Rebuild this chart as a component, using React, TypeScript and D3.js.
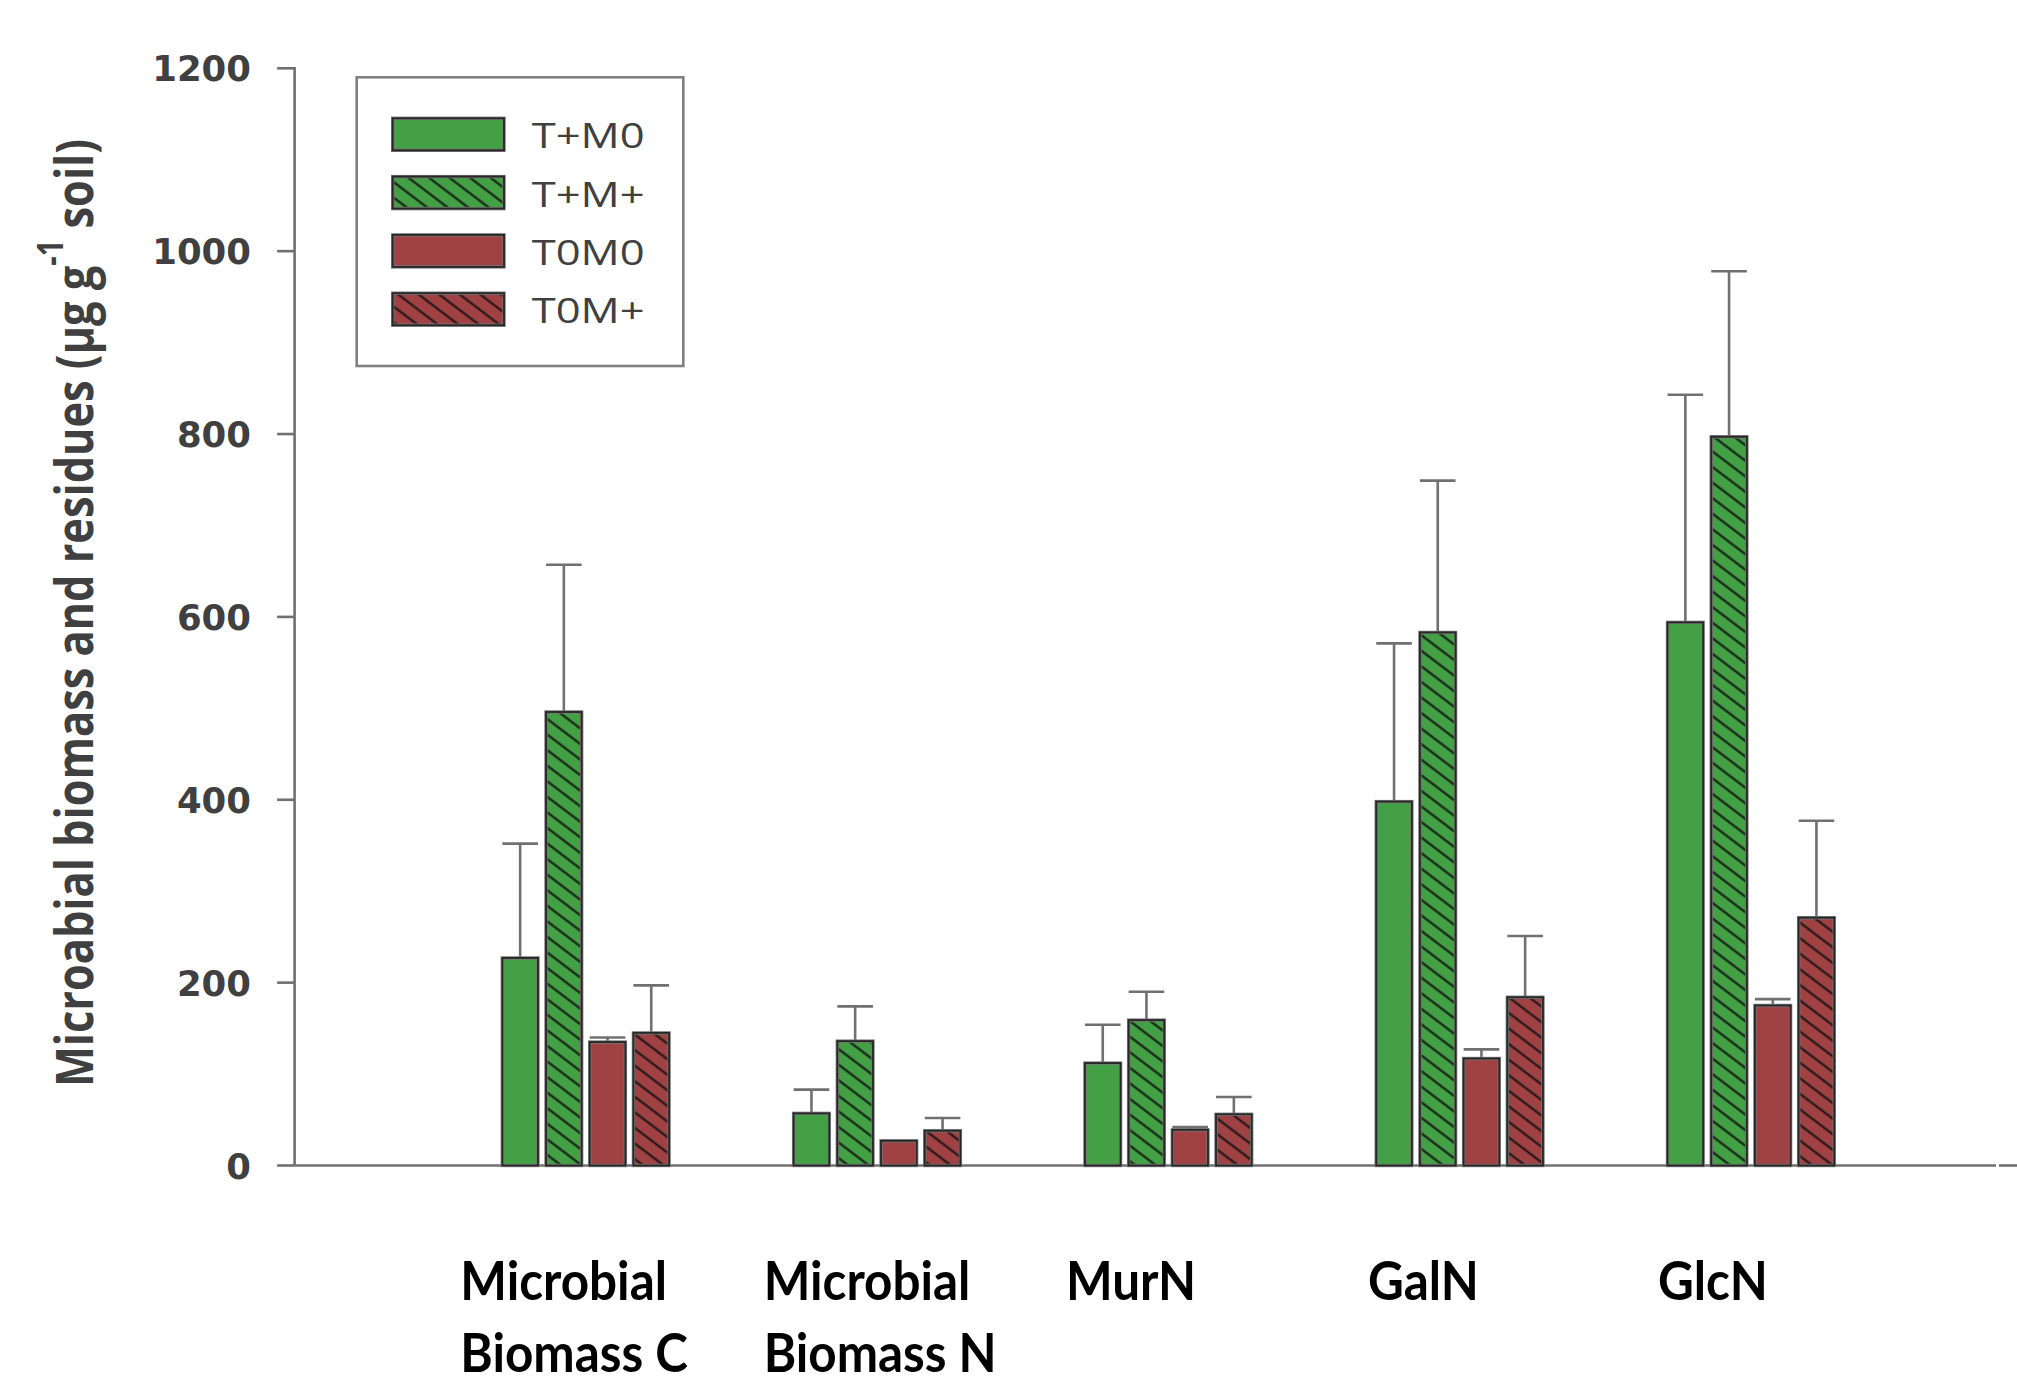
import React from "react";
import * as d3 from "d3";

const categories = ["Microbial Biomass C", "Microbial Biomass N", "MurN", "GalN", "GlcN"];
const labelLines = [["Microbial", "Biomass C"], ["Microbial", "Biomass N"], ["MurN"], ["GalN"], ["GlcN"]];
const seriesNames = ["T+M0", "T+M+", "T0M0", "T0M+"];
const valuesTM0 = [227, 57, 112, 398, 594];
const valuesTMp = [496, 136, 159, 583, 797];
const valuesT0M0 = [135, 27, 39, 117, 175];
const valuesT0Mp = [145, 38, 56, 184, 271];
const errTM0 = [125, 26, 42, 173, 249];
const errTMp = [161, 38, 31, 166, 181];
const errT0M0 = [5, 0, 3, 10, 7];
const errT0Mp = [52, 14, 19, 67, 106];
const yTicks = [0, 200, 400, 600, 800, 1000, 1200];

const W = 2017;
const H = 1382;
const GREEN = "#43a044";
const RED = "#a04244";

export default function App() {
  const y = d3.scaleLinear().domain([0, 1200]).range([1165.5, 68.3]);
  const x = d3.scalePoint<string>().domain(categories).range([585.7, 1750.9]);
  const sub = d3.scaleBand<string>().domain(seriesNames).range([-87.4, 87.4]).paddingInner(0.185).paddingOuter(0.0925);
  const seriesVals = [valuesTM0, valuesTMp, valuesT0M0, valuesT0Mp];
  const seriesErr = [errTM0, errTMp, errT0M0, errT0Mp];
  const fills = [GREEN, "url(#hatch)", RED, "url(#hatch)"];
  const baseFills = [GREEN, GREEN, RED, RED];
  const hatched = [false, true, false, true];
  const axisX = 294.6;
  const labelOffsets = [-125.4, -113.3, -102.3, -91.6, -92.9];
  const bw = sub.bandwidth();

  const bars: any[] = [];
  const errs: any[] = [];
  categories.forEach((c, ci) => {
    seriesNames.forEach((s, si) => {
      const v = seriesVals[si][ci];
      const e = seriesErr[si][ci];
      const bx = (x(c) as number) + (sub(s) as number);
      const top = y(v);
      if (e > 0) {
        errs.push(
          <g key={`e${ci}-${si}`} stroke="#707070" strokeWidth={2.6}>
            <line x1={bx + bw / 2} x2={bx + bw / 2} y1={top} y2={y(v + e)} />
            <line x1={bx} x2={bx + bw} y1={y(v + e)} y2={y(v + e)} />
          </g>
        );
      }
      bars.push(
        <g key={`b${ci}-${si}`}>
          <rect x={bx} y={top} width={bw} height={y(0) - top} fill={baseFills[si]} />
          {hatched[si] && <rect x={bx} y={top} width={bw} height={y(0) - top} fill={fills[si]} />}
          <rect x={bx} y={top} width={bw} height={y(0) - top} fill="none" stroke="#777" strokeWidth={3.4} />
          <rect x={bx} y={top} width={bw} height={y(0) - top} fill="none" stroke="#1e1e1e" strokeOpacity={0.9} strokeWidth={1.8} />
        </g>
      );
    });
  });

  return (
    <svg width={W} height={H} style={{ position: "absolute", left: 0, top: 0, background: "#fff" }}>
      <defs>
        <pattern id="hatch" patternUnits="userSpaceOnUse" width={12} height={12.4} patternTransform="rotate(37.2)">
          <line x1={0} x2={12} y1={6.2} y2={6.2} stroke="#111" strokeOpacity={0.85} strokeWidth={2.3} />
        </pattern>
      </defs>
      <rect x={0} y={0} width={W} height={H} fill="#fff" />

      {/* y axis */}
      <line x1={axisX} x2={axisX} y1={y(1200) - 1.2} y2={y(0)} stroke="#707070" strokeWidth={2.6} />
      {yTicks.map((t) => (
        <g key={t}>
          <line x1={axisX - 17.5} x2={axisX} y1={y(t)} y2={y(t)} stroke="#707070" strokeWidth={2.6} />
          <text x={251} y={y(t) + 13} textAnchor="end" fontFamily="'DejaVu Sans', Verdana, sans-serif" fontWeight="bold" fontSize={35.5} fill="#404040">
            {t}
          </text>
        </g>
      ))}

      {/* x axis */}
      <line x1={axisX} x2={1996} y1={y(0)} y2={y(0)} stroke="#707070" strokeWidth={2.6} />
      <line x1={1999} x2={W} y1={y(0)} y2={y(0)} stroke="#707070" strokeWidth={2.6} />

      {errs}
      {bars}

      {/* x labels */}
      {categories.map((c, ci) => (
        <g key={c}>
          {labelLines[ci].map((ln, li) => (
            <text
              key={li}
              transform={`translate(${(x(c) as number) + labelOffsets[ci]},${1300 + li * 72}) scale(0.95,1.04)`}
              fontFamily="Lato, 'Open Sans', sans-serif"
              fontWeight="bold"
              fontSize={52}
              fill="#000"
            >
              {ln}
            </text>
          ))}
        </g>
      ))}

      {/* y title */}
      <text
        transform="translate(93,1087) rotate(-90)"
        fontFamily="'Open Sans', sans-serif"
        fontWeight={700}
        fontSize={52}
        fill="#404040"
        textLength={948}
        lengthAdjust="spacingAndGlyphs"
      >
        Microabial biomass and residues (μg g
        <tspan fontSize={35} dy={-30}>-1</tspan>
        <tspan dy={30}> soil)</tspan>
      </text>

      {/* legend */}
      <rect x={356.7} y={77.3} width={326.6} height={288.7} fill="#fff" stroke="#808080" strokeWidth={2.6} />
      {seriesNames.map((s, si) => (
        <g key={s}>
          <rect x={392.7} y={118.3 + si * 58.3} width={111.3} height={32} fill={baseFills[si]} />
          {hatched[si] && <rect x={392.7} y={118.3 + si * 58.3} width={111.3} height={32} fill={fills[si]} />}
          <rect x={392.7} y={118.3 + si * 58.3} width={111.3} height={32} fill="none" stroke="#777" strokeWidth={3.4} />
          <rect x={392.7} y={118.3 + si * 58.3} width={111.3} height={32} fill="none" stroke="#1e1e1e" strokeOpacity={0.9} strokeWidth={1.8} />
          <text
            x={531.7}
            y={148.3 + si * 58.3}
            fontFamily="'Open Sans', sans-serif"
            fontSize={35}
            fill="#404040"
            textLength={113}
            lengthAdjust="spacingAndGlyphs"
          >
            {s}
          </text>
        </g>
      ))}
    </svg>
  );
}
